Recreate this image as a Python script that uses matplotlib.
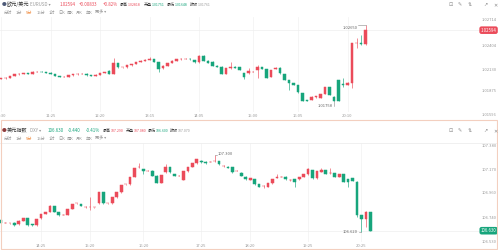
import matplotlib
matplotlib.use("Agg")
import matplotlib.pyplot as plt
from matplotlib.patches import Rectangle
from matplotlib.transforms import blended_transform_factory

plt.rcParams['font.family'] = ['Noto Sans CJK SC', 'DejaVu Sans']

RED = '#eb4b5a'
GREEN = '#17a57c'
GRAY = '#9a9a9a'
DARK = '#333333'

# EUR/USD 5-minute candles
eur_open = [1.02020, 1.02028, 1.02036, 1.02056, 1.02075, 1.02083, 1.02087, 1.02079, 1.02103, 1.02107,
            1.02103, 1.02095, 1.02079, 1.02056, 1.02044, 1.02048, 1.02064, 1.02075, 1.02083, 1.02083,
            1.02064, 1.02056, 1.02071, 1.02091, 1.02115, 1.02079, 1.02205, 1.02158, 1.02158, 1.02181,
            1.02197, 1.02220, 1.02236, 1.02248, 1.02252, 1.02220, 1.02146, 1.02177, 1.02209, 1.02236,
            1.02252, 1.02259, 1.02259, 1.02244, 1.02216, 1.02295, 1.02236, 1.02224, 1.02177, 1.02165,
            1.02083, 1.02146, 1.02165, 1.02158, 1.02087, 1.02087, 1.02107, 1.02126, 1.02158, 1.02134,
            1.02048, 1.02138, 1.02154, 1.02079, 1.02009, 1.01969, 1.01950, 1.01852, 1.01770, 1.01773,
            1.01805, 1.01801, 1.01844, 1.01922, 1.01813, 1.02009, 1.01958, 1.01950, 1.01969, 1.02440,
            1.02440, 1.02428]
eur_close = [1.02028, 1.02036, 1.02056, 1.02075, 1.02083, 1.02087, 1.02079, 1.02103, 1.02107, 1.02103,
             1.02095, 1.02079, 1.02056, 1.02044, 1.02048, 1.02064, 1.02075, 1.02083, 1.02083, 1.02064,
             1.02056, 1.02071, 1.02091, 1.02103, 1.02079, 1.02205, 1.02158, 1.02158, 1.02181, 1.02197,
             1.02220, 1.02236, 1.02248, 1.02259, 1.02220, 1.02134, 1.02177, 1.02209, 1.02236, 1.02252,
             1.02259, 1.02259, 1.02252, 1.02216, 1.02295, 1.02236, 1.02212, 1.02177, 1.02162, 1.02083,
             1.02146, 1.02165, 1.02154, 1.02126, 1.02044, 1.02115, 1.02107, 1.02158, 1.02138, 1.02036,
             1.02126, 1.02154, 1.02087, 1.02009, 1.01969, 1.01950, 1.01864, 1.01766, 1.01766, 1.01813,
             1.01817, 1.01844, 1.01922, 1.01832, 1.01762, 1.01762, 1.01950, 1.01977, 1.02440, 1.02440,
             1.02428, 1.02594]
eur_high = [1.02036, 1.02044, 1.02060, 1.02079, 1.02087, 1.02091, 1.02095, 1.02115, 1.02111, 1.02111,
            1.02107, 1.02099, 1.02083, 1.02060, 1.02052, 1.02068, 1.02079, 1.02087, 1.02087, 1.02087,
            1.02068, 1.02075, 1.02095, 1.02107, 1.02130, 1.02271, 1.02209, 1.02162, 1.02185, 1.02201,
            1.02224, 1.02240, 1.02252, 1.02283, 1.02256, 1.02224, 1.02181, 1.02213, 1.02240, 1.02256,
            1.02263, 1.02267, 1.02263, 1.02248, 1.02299, 1.02299, 1.02240, 1.02228, 1.02181, 1.02169,
            1.02150, 1.02216, 1.02169, 1.02162, 1.02091, 1.02150, 1.02111, 1.02185, 1.02162, 1.02138,
            1.02130, 1.02162, 1.02158, 1.02083, 1.02013, 1.01973, 1.01954, 1.01856, 1.01774, 1.01817,
            1.01821, 1.01848, 1.01926, 1.01926, 1.01817, 1.02013, 1.02036, 1.01981, 1.02444, 1.02506,
            1.02538, 1.02650]
eur_low = [1.02016, 1.02024, 1.02030, 1.02052, 1.02071, 1.02079, 1.02075, 1.02075, 1.02099, 1.02099,
           1.02091, 1.02075, 1.02052, 1.02040, 1.02040, 1.02044, 1.02060, 1.02071, 1.02079, 1.02060,
           1.02052, 1.02052, 1.02067, 1.02087, 1.02075, 1.02075, 1.02154, 1.02150, 1.02154, 1.02177,
           1.02193, 1.02216, 1.02232, 1.02244, 1.02216, 1.02107, 1.02142, 1.02173, 1.02205, 1.02232,
           1.02248, 1.02255, 1.02248, 1.02212, 1.02212, 1.02232, 1.02208, 1.02173, 1.02158, 1.02079,
           1.02079, 1.02142, 1.02150, 1.02122, 1.02016, 1.02083, 1.02103, 1.02036, 1.02134, 1.02032,
           1.02044, 1.02134, 1.02083, 1.02005, 1.01891, 1.01946, 1.01860, 1.01762, 1.01762, 1.01769,
           1.01801, 1.01797, 1.01840, 1.01828, 1.01758, 1.01758, 1.01930, 1.01946, 1.01911, 1.02381,
           1.02424, 1.02424]
eur_tick_pos = [0, 11, 22, 33, 44, 56, 66, 77]
eur_tick_labels = ['10:30', '11:25', '12:20', '13:15', '14:05', '15:00', '16:05', '20:10']
eur_price_ticks = [1.02714, 1.02404, 1.02130, 1.01875, 1.01596]
eur_last = 1.02594

# US dollar index 5-minute candles
dxy_open = [106.724, 106.701, 106.695, 106.701, 106.686, 106.716, 106.739, 106.686, 106.680, 106.739,
            106.778, 106.798, 106.849, 106.792, 106.769, 106.769, 106.822, 106.872, 106.866, 106.843,
            106.843, 106.837, 106.872, 106.969, 106.872, 106.872, 106.925, 106.969, 107.040, 107.040,
            107.108, 107.191, 107.176, 107.161, 107.161, 107.117, 107.055, 107.147, 107.191, 107.132,
            107.117, 107.079, 107.158, 107.197, 107.226, 107.250, 107.241, 107.241, 107.247, 107.247,
            107.203, 107.197, 107.191, 107.161, 107.144, 107.108, 107.079, 107.085, 107.043, 107.028,
            107.020, 107.049, 107.099, 107.108, 107.108, 107.079, 107.085, 107.085, 107.108, 107.129,
            107.164, 107.093, 107.152, 107.167, 107.138, 107.138, 107.108, 107.132, 107.085, 107.093,
            107.064, 106.769, 106.733, 106.792]
dxy_close = [106.695, 106.701, 106.695, 106.680, 106.716, 106.739, 106.680, 106.680, 106.733, 106.778,
             106.792, 106.849, 106.798, 106.769, 106.769, 106.822, 106.866, 106.872, 106.851, 106.843,
             106.843, 106.837, 106.969, 106.872, 106.872, 106.925, 106.969, 107.034, 107.040, 107.102,
             107.182, 107.191, 107.158, 107.161, 107.117, 107.055, 107.123, 107.191, 107.147, 107.117,
             107.117, 107.158, 107.191, 107.226, 107.262, 107.235, 107.226, 107.241, 107.247, 107.217,
             107.203, 107.188, 107.147, 107.161, 107.117, 107.087, 107.093, 107.040, 107.020, 107.028,
             107.049, 107.085, 107.108, 107.108, 107.085, 107.079, 107.064, 107.102, 107.129, 107.173,
             107.093, 107.158, 107.167, 107.132, 107.138, 107.108, 107.132, 107.064, 107.058, 107.070,
             106.769, 106.733, 106.798, 106.630]
dxy_high = [106.730, 106.707, 106.701, 106.707, 106.722, 106.745, 106.742, 106.692, 106.737, 106.782,
            106.796, 106.855, 106.853, 106.796, 106.775, 106.826, 106.870, 106.878, 106.870, 106.849,
            106.931, 106.843, 106.973, 106.973, 106.878, 106.929, 106.973, 107.038, 107.046, 107.106,
            107.186, 107.226, 107.180, 107.167, 107.165, 107.121, 107.127, 107.217, 107.195, 107.136,
            107.123, 107.162, 107.195, 107.230, 107.266, 107.254, 107.245, 107.247, 107.300, 107.251,
            107.209, 107.201, 107.195, 107.167, 107.148, 107.112, 107.097, 107.089, 107.047, 107.034,
            107.053, 107.089, 107.130, 107.114, 107.112, 107.085, 107.089, 107.106, 107.133, 107.188,
            107.168, 107.162, 107.188, 107.171, 107.182, 107.142, 107.136, 107.136, 107.089, 107.097,
            107.068, 106.773, 106.802, 106.796]
dxy_low = [106.690, 106.695, 106.690, 106.675, 106.680, 106.712, 106.676, 106.675, 106.676, 106.735,
           106.774, 106.794, 106.794, 106.760, 106.765, 106.765, 106.818, 106.866, 106.847, 106.835,
           106.813, 106.831, 106.868, 106.868, 106.866, 106.868, 106.921, 106.965, 107.034, 107.036,
           107.104, 107.185, 107.130, 107.155, 107.113, 107.051, 107.051, 107.143, 107.143, 107.113,
           107.111, 107.075, 107.154, 107.193, 107.222, 107.231, 107.222, 107.235, 107.241, 107.213,
           107.197, 107.184, 107.143, 107.155, 107.113, 107.083, 107.075, 107.036, 107.016, 107.005,
           107.016, 107.045, 107.095, 107.102, 107.081, 107.073, 107.020, 107.081, 107.104, 107.125,
           107.089, 107.089, 107.148, 107.128, 107.132, 107.104, 107.104, 107.060, 107.020, 107.066,
           106.755, 106.620, 106.665, 106.625]
dxy_tick_pos = [9, 20, 32, 45, 56, 69, 81]
dxy_tick_labels = ['14:25', '15:20', '16:20', '17:25', '18:20', '19:25', '20:25']
dxy_price_ticks = [107.380, 107.170, 106.960, 106.740, 106.530]
dxy_last = 106.630

W, H = 498, 250
fig = plt.figure(figsize=(W / 100, H / 100), dpi=100)
fig.patch.set_facecolor('white')


def px_axes(top, bottom):
    return fig.add_axes([0, 1 - bottom / H, 1, (bottom - top) / H])


def ftext(x, y, s, color=DARK, size=3.6, **kw):
    fig.text(x / W, 1 - y / H, s, color=color, fontsize=size, va='center', ha='left', **kw)


def draw_candles(ax, o, c, h, l, step):
    xs = list(range(len(o)))
    cols = [RED if c[i] >= o[i] else GREEN for i in xs]
    ax.vlines(xs, l, h, colors=cols, lw=0.45, zorder=2)
    bottoms = [min(a, b) for a, b in zip(o, c)]
    heights = [abs(a - b) for a, b in zip(o, c)]
    ax.bar(xs, heights, 0.62, bottom=bottoms, color=cols, edgecolor=cols, lw=0.35, zorder=3)
    left = -1.0 / step
    ax.set_xlim(left, left + W / step)


def style_axes(ax, ticks, labels, price_ticks, fmt, last, last_col):
    for s in ax.spines.values():
        s.set_visible(False)
    ax.set_yticks([])
    ax.set_xticks(ticks)
    ax.set_xticklabels(labels)
    ax.tick_params(axis='x', length=0, labelsize=3, labelcolor=GRAY, pad=1.5)
    ax.grid(axis='x', color='#f1f1f1', lw=0.5)
    ax.set_axisbelow(True)
    tr = blended_transform_factory(ax.transAxes, ax.transData)
    for v in price_ticks:
        ax.text(0.997, v, fmt.format(v), transform=tr, ha='right', va='center',
                fontsize=3, color=GRAY, clip_on=False)
    ax.axhline(last, color='#eeeeee', lw=0.5, zorder=1)
    ax.text(0.997, last, fmt.format(last), transform=tr, ha='right', va='center',
            fontsize=3.1, color='white', clip_on=False, zorder=6,
            bbox=dict(boxstyle='round,pad=0.3,rounding_size=0.5', fc=last_col, ec='none'))


# ---- top panel: EUR/USD ----
ax1 = px_axes(17, 112)
draw_candles(ax1, eur_open, eur_close, eur_high, eur_low, 4.5)
ax1.set_ylim(1.01631, 1.02749)
style_axes(ax1, eur_tick_pos, eur_tick_labels, eur_price_ticks, '{:.5f}', eur_last, RED)
ax1.axhline(1.01631, color='#eeeeee', lw=0.6)

hi_i = eur_high.index(max(eur_high))
ax1.plot([hi_i - 1.6, hi_i], [eur_high[hi_i]] * 2, color='#888888', lw=0.4)
ax1.text(hi_i - 1.8, eur_high[hi_i] - 0.0003, '{:.5f}'.format(eur_high[hi_i]), ha='right', va='center',
         fontsize=3, color='#666666')
lo_i = eur_low.index(min(eur_low))
ax1.plot([lo_i, lo_i], [eur_low[lo_i], eur_low[lo_i] - 0.0006], color='#888888', lw=0.4)
ax1.text(lo_i - 0.3, eur_low[lo_i] - 0.0006, '{:.5f}'.format(eur_low[lo_i]), ha='right', va='center',
         fontsize=3, color='#666666')

# ---- bottom panel: DXY ----
ax2 = px_axes(143, 242)
draw_candles(ax2, dxy_open, dxy_close, dxy_high, dxy_low, 4.45)
ax2.set_ylim(106.530, 107.407)
style_axes(ax2, dxy_tick_pos, dxy_tick_labels, dxy_price_ticks, '{:.3f}', dxy_last, GREEN)
ax2.axhline(107.407, color='#eeeeee', lw=0.6)

hi_i = dxy_high.index(max(dxy_high))
ax2.plot([hi_i, hi_i + 0.6], [dxy_high[hi_i]] * 2, color='#888888', lw=0.4)
ax2.text(hi_i + 0.7, dxy_high[hi_i] + 0.012, '{:.3f}'.format(dxy_high[hi_i]), ha='left', va='center',
         fontsize=3, color='#666666')
lo_i = dxy_low.index(min(dxy_low))
ax2.plot([lo_i - 0.6, lo_i], [dxy_low[lo_i]] * 2, color='#888888', lw=0.4)
ax2.text(lo_i - 0.8, dxy_low[lo_i] - 0.005, '{:.3f}'.format(dxy_low[lo_i]), ha='right', va='center',
         fontsize=3, color='#666666')

# ---- headers ----
periods = [('分时', 4), ('1分', 16), ('5分', 26), ('15分', 37), ('1时', 49), ('日K', 58),
           ('周K', 67), ('月K', 76), ('年K', 86), ('更多 ▾', 95)]
icons = [('⊡', 448), ('✎', 458), ('⇅', 468), ('↗', 483), ('✕', 493)]


def header(y, icon_col, name, code, vals, stats):
    ftext(1.5, y, '●', color=icon_col, size=3.4)
    ftext(7, y, name, size=3.7)
    ftext(30, y, code + ' ▾', color=GRAY, size=3.2)
    for s, x, col in vals:
        ftext(x, y, s, color=col, size=3.2)
    for lab, x, s, col in stats:
        ftext(x, y, lab, size=2.9)
        ftext(x + 7.5, y, s, color=col, size=2.6)
    for s, x in periods:
        ftext(x, y + 8, s, color='#f08a3c' if s == '5分' else GRAY, size=3.0)
    for s, x in icons:
        ftext(x, y, s, color='#8a8a8a', size=3.6, family=['DejaVu Sans'])


header(4.5, '#4d5a78', '欧元/美元', 'EURUSD',
       [('1.02594', 60, RED), ('+0.00833', 79, RED), ('+0.82%', 103, RED)],
       [('最高', 120, '1.02818', RED), ('开盘', 144, '1.01751', GREEN),
        ('最低', 167, '1.01648', GREEN), ('昨收', 190, '1.01761', GRAY)])
header(130.5, '#8e3b3b', '美元指数', 'DXY',
       [('106.630', 48, GREEN), ('-0.440', 68, GREEN), ('-0.41%', 86, GREEN)],
       [('最高', 103, '107.290', RED), ('开盘', 126, '107.080', RED),
        ('最低', 148, '106.600', GREEN), ('昨收', 170, '107.070', GRAY)])

fig.add_artist(Rectangle((0.6 / W, 0.6 / H), (W - 1.2) / W, (H - 121) / H, transform=fig.transFigure,
                         fill=False, ec='#f3cfbf', lw=0.8))

fig.savefig('out.png', dpi=100)
